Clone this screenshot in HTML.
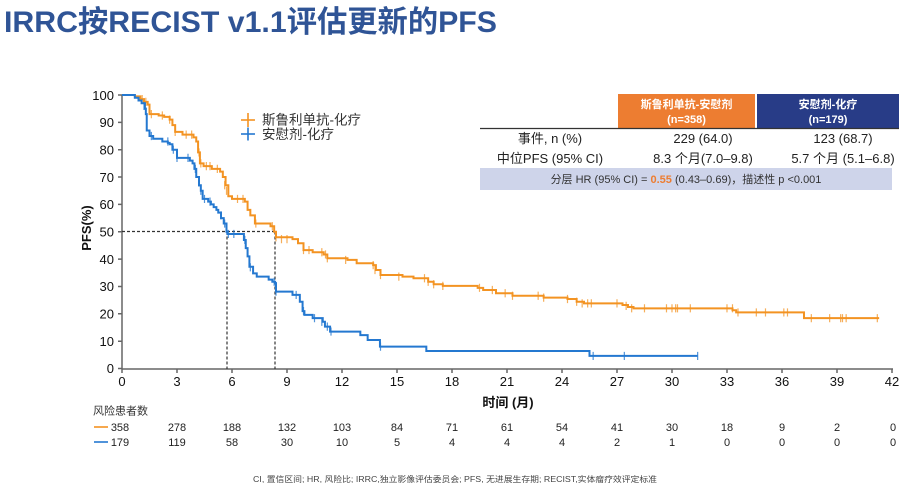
<!DOCTYPE html>
<html><head><meta charset="utf-8">
<style>
html,body{margin:0;padding:0;background:#fff;}
svg{display:block;}
text{font-family:"Liberation Sans","Noto Sans CJK SC",sans-serif;}
</style></head>
<body>
<svg width="905" height="486" viewBox="0 0 905 486" xmlns="http://www.w3.org/2000/svg">
<rect width="905" height="486" fill="#fff"/>
<!-- Title -->
<text x="4" y="32" font-size="30" font-weight="bold" fill="#2F5496" textLength="493" lengthAdjust="spacingAndGlyphs">IRRC按RECIST v1.1评估更新的PFS</text>

<!-- Table -->
<rect x="618" y="94" width="137" height="34" fill="#ED7D31"/>
<rect x="757" y="94" width="142" height="34" fill="#283C87"/>
<text x="686.5" y="108" font-size="11" font-weight="bold" fill="#fff" text-anchor="middle">斯鲁利单抗-安慰剂</text>
<text x="686.5" y="123" font-size="11" font-weight="bold" fill="#fff" text-anchor="middle">(n=358)</text>
<text x="828" y="108" font-size="11" font-weight="bold" fill="#fff" text-anchor="middle">安慰剂-化疗</text>
<text x="828" y="123" font-size="11" font-weight="bold" fill="#fff" text-anchor="middle">(n=179)</text>
<line x1="480" y1="128.5" x2="899" y2="128.5" stroke="#333" stroke-width="1.2"/>
<text x="550" y="143" font-size="13" fill="#222" text-anchor="middle">事件, n (%)</text>
<text x="703" y="143" font-size="13" fill="#222" text-anchor="middle">229 (64.0)</text>
<text x="843" y="143" font-size="13" fill="#222" text-anchor="middle">123 (68.7)</text>
<text x="550" y="163" font-size="13" fill="#222" text-anchor="middle">中位PFS (95% CI)</text>
<text x="703" y="163" font-size="13" fill="#222" text-anchor="middle">8.3 个月(7.0–9.8)</text>
<text x="843" y="163" font-size="13" fill="#222" text-anchor="middle">5.7 个月 (5.1–6.8)</text>
<rect x="480" y="168" width="412" height="22" fill="#CED4EA"/>
<text x="686" y="183" font-size="11" fill="#333" text-anchor="middle">分层  HR (95% CI) = <tspan fill="#ED7D31" font-weight="bold">0.55</tspan> (0.43–0.69)，描述性 p &lt;0.001</text>

<!-- Legend -->
<g stroke-width="1.6">
<line x1="241" y1="120" x2="255" y2="120" stroke="#F39322"/>
<line x1="248" y1="113" x2="248" y2="127" stroke="#F39322"/>
<line x1="241" y1="134" x2="255" y2="134" stroke="#2478D0"/>
<line x1="248" y1="127.5" x2="248" y2="140.5" stroke="#2478D0"/>
</g>
<text x="262" y="124.5" font-size="13.5" fill="#333">斯鲁利单抗-化疗</text>
<text x="262" y="139" font-size="13.5" fill="#333">安慰剂-化疗</text>

<!-- Axes -->
<g stroke="#666" stroke-width="1.5" fill="none">
<line x1="122" y1="95" x2="122" y2="369"/>
<line x1="122" y1="369" x2="893" y2="369"/>
<path d="M118 95H122M118 122.35H122M118 149.7H122M118 177H122M118 204.4H122M118 231.75H122M118 259.1H122M118 286.5H122M118 313.8H122M118 341.2H122M118 368.5H122"/>
<path d="M122 369V373M177 369V373M232 369V373M287 369V373M342 369V373M397 369V373M452 369V373M507 369V373M562 369V373M617 369V373M672 369V373M727 369V373M782 369V373M837 369V373M892 369V373"/>
</g>
<g font-size="13" fill="#111" text-anchor="end">
<text x="114" y="100">100</text>
<text x="114" y="127">90</text>
<text x="114" y="154.5">80</text>
<text x="114" y="182">70</text>
<text x="114" y="209">60</text>
<text x="114" y="236.5">50</text>
<text x="114" y="264">40</text>
<text x="114" y="291">30</text>
<text x="114" y="318.5">20</text>
<text x="114" y="346">10</text>
<text x="114" y="373">0</text>
</g>
<g font-size="13" fill="#111" text-anchor="middle">
<text x="122" y="386">0</text>
<text x="177" y="386">3</text>
<text x="232" y="386">6</text>
<text x="287" y="386">9</text>
<text x="342" y="386">12</text>
<text x="397" y="386">15</text>
<text x="452" y="386">18</text>
<text x="507" y="386">21</text>
<text x="562" y="386">24</text>
<text x="617" y="386">27</text>
<text x="672" y="386">30</text>
<text x="727" y="386">33</text>
<text x="782" y="386">36</text>
<text x="837" y="386">39</text>
<text x="892" y="386">42</text>
</g>
<text x="508" y="407" font-size="13" font-weight="bold" fill="#111" text-anchor="middle">时间 (月)</text>
<text transform="translate(91,228) rotate(-90)" font-size="13" font-weight="bold" fill="#111" text-anchor="middle">PFS(%)</text>

<!-- Dashed median lines -->
<g stroke="#333" stroke-width="1.2" stroke-dasharray="3,2" fill="none">
<line x1="122" y1="231.5" x2="275" y2="231.5"/>
<line x1="227" y1="231.5" x2="227" y2="369"/>
<line x1="275" y1="231.5" x2="275" y2="369"/>
</g>

<!-- Curves in data coordinates -->
<g transform="translate(122,368.5) scale(18.333,-2.735)" fill="none">
<path vector-effect="non-scaling-stroke" stroke="#F39322" stroke-width="2" d="M0 100 H0.7 V99.5 H1.0 V98.5 H1.2 V97.5 H1.4 V96.5 H1.5 V93 H2.0 V92.5 H2.3 V92 H2.6 V91 H2.75 V89 H2.9 V86.5 H3.3 V85.5 H3.9 V84.5 H4.05 V83 H4.15 V79 H4.25 V75 H4.45 V74 H4.9 V73 H5.35 V72 H5.5 V70 H5.65 V67 H5.8 V63 H6.0 V62 H6.7 V61 H6.85 V58 H7.0 V56 H7.25 V53 H8.1 V52 H8.3 V50 H8.4 V48 H9.3 V47.3 H9.6 V45.8 H9.9 V43.3 H10.4 V42.5 H11.0 V41.7 H11.2 V40.3 H12.3 V39.7 H12.8 V38.5 H13.7 V37.8 H13.85 V36 H14.1 V34.2 H15.3 V33.6 H15.9 V33 H16.7 V31.7 H17 V30.8 H17.5 V30.2 H19.4 V29.5 H19.7 V28.7 H20.4 V27.5 H21.3 V26.6 H23 V25.9 H24.3 V25.4 H24.8 V24.4 H25.2 V23.8 H27.3 V23.2 H27.6 V22.5 H27.9 V22 H33.3 V21.3 H33.5 V20.5 H37.2 V18.4 H41.3"/>
<path vector-effect="non-scaling-stroke" stroke="#F39322" stroke-opacity="0.75" stroke-width="1.2" d="M1.1 97 v3 M1.3 96 v3 M1.6 91.5 v3 M2.2 91 v3 M2.6 89.5 v3 M2.9 85 v3 M3.5 84 v3 M3.8 84 v3 M4.2 77.5 v3 M4.3 73.5 v3 M4.6 72.5 v3 M4.8 72.5 v3 M5.2 71.5 v3 M5.6 65.5 v3 M5.7 63.5 v3 M6.3 60.5 v3 M6.6 60.5 v3 M7.3 51.5 v3 M8.2 50.5 v3 M8.4 46.5 v3 M8.7 45.8 v3 M9.0 45.8 v3 M9.9 41.8 v3 M10.2 41.8 v3 M10.9 41 v3 M11.1 40.2 v3 M11.2 38.8 v3 M12.2 38.2 v3 M13.7 36.3 v3 M13.8 34.5 v3 M14.1 32.7 v3 M15.1 32.1 v3 M16.5 31.5 v3 M16.7 30.2 v3 M17.0 29.3 v3 M17.5 28.7 v3 M19.5 28 v3 M20.2 27.2 v3 M20.9 26 v3 M21.3 25.1 v3 M22.7 25.1 v3 M23.0 24.4 v3 M24.3 23.9 v3 M24.8 22.9 v3 M25.1 22.3 v3 M25.4 22.3 v3 M25.6 22.3 v3 M27.0 22.3 v3 M27.5 21.4 v3 M27.8 20.5 v3 M28.5 20.5 v3 M29.7 20.5 v3 M30 20.5 v3 M30.2 20.5 v3 M30.3 20.5 v3 M31 20.5 v3 M33 20.5 v3 M33.3 20.5 v3 M33.6 19 v3 M34.6 19 v3 M35.1 19 v3 M36.1 19 v3 M36.3 19 v3 M37.6 16.9 v3 M38.6 16.9 v3 M39.2 16.9 v3 M39.3 16.9 v3 M39.5 16.9 v3 M41.2 16.9 v3"/>
<path vector-effect="non-scaling-stroke" stroke="#2478D0" stroke-width="2" d="M0 100 H0.7 V99 H0.9 V98 H1.07 V97 H1.25 V95 H1.3 V93 H1.35 V87 H1.5 V85 H1.7 V84 H2.2 V83 H2.5 V82.5 H2.6 V82 H2.75 V80 H3.0 V77 H3.7 V76 H3.85 V75 H3.95 V73 H4.05 V70 H4.2 V67 H4.3 V65 H4.4 V62 H4.7 V61 H4.85 V60 H5.0 V59 H5.15 V58 H5.25 V57 H5.4 V55 H5.55 V53 H5.7 V50 H5.75 V49.2 H6.65 V47 H6.75 V44 H6.85 V41 H6.95 V37.2 H7.15 V34.8 H7.35 V33.6 H8.0 V32.5 H8.2 V31.7 H8.35 V31.2 H8.4 V28.1 H9.3 V26.9 H9.7 V24.4 H9.85 V21 H9.95 V19.6 H10.4 V18.4 H10.95 V17.1 H11.07 V15.3 H11.35 V13.5 H13.0 V12.2 H13.4 V10.4 H14.07 V8.0 H16.6 V6.4 H25.5 V4.6 H31.4"/>
<path vector-effect="non-scaling-stroke" stroke="#2478D0" stroke-opacity="0.8" stroke-width="1.2" d="M1.2 94.5 v3 M1.35 88.5 v3 M1.6 83.5 v3 M2.5 81.5 v3 M2.8 78.5 v3 M3.0 75.5 v3 M3.6 75.5 v3 M4.0 71.5 v3 M4.2 66.5 v3 M4.3 63.5 v3 M4.5 60.5 v3 M4.8 59.5 v3 M5.4 54.5 v3 M5.6 51.5 v3 M5.7 49.5 v3 M5.8 47.7 v3 M6.1 47.7 v3 M6.7 45.5 v3 M7.0 35.5 v3 M8.3 30.2 v3 M8.4 26.6 v3 M9.5 25.4 v3 M9.9 19.5 v3 M10.5 16.9 v3 M10.9 15.6 v3 M11.2 13.8 v3 M11.4 12 v3 M14.1 6.5 v3 M25.7 3.1 v3 M27.4 3.1 v3 M31.4 3.1 v3"/>
</g>

<!-- Risk table -->
<text x="93" y="414.5" font-size="11" fill="#333">风险患者数</text>
<line x1="94" y1="427" x2="108" y2="427" stroke="#F39322" stroke-width="1.6"/>
<line x1="94" y1="442" x2="108" y2="442" stroke="#2478D0" stroke-width="1.6"/>
<g font-size="11" fill="#222" text-anchor="middle">
<text x="120" y="431">358</text><text x="177" y="431">278</text><text x="232" y="431">188</text><text x="287" y="431">132</text><text x="342" y="431">103</text><text x="397" y="431">84</text><text x="452" y="431">71</text><text x="507" y="431">61</text><text x="562" y="431">54</text><text x="617" y="431">41</text><text x="672" y="431">30</text><text x="727" y="431">18</text><text x="782" y="431">9</text><text x="837" y="431">2</text><text x="893" y="431">0</text>
<text x="120" y="446">179</text><text x="177" y="446">119</text><text x="232" y="446">58</text><text x="287" y="446">30</text><text x="342" y="446">10</text><text x="397" y="446">5</text><text x="452" y="446">4</text><text x="507" y="446">4</text><text x="562" y="446">4</text><text x="617" y="446">2</text><text x="672" y="446">1</text><text x="727" y="446">0</text><text x="782" y="446">0</text><text x="837" y="446">0</text><text x="893" y="446">0</text>
</g>

<!-- Footnote -->
<text x="253" y="482" font-size="8" fill="#444" textLength="404" lengthAdjust="spacingAndGlyphs">CI, 置信区间; HR, 风险比; IRRC,独立影像评估委员会; PFS, 无进展生存期; RECIST,实体瘤疗效评定标准</text>
</svg>
</body></html>
